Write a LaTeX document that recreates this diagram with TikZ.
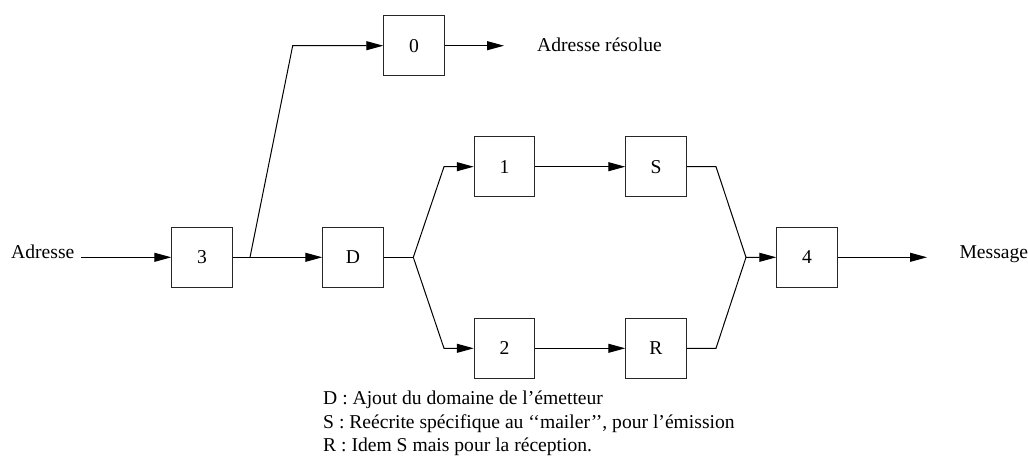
\documentclass[tikz,border=0pt]{standalone}
\usepackage{fontspec}
\setmainfont{Liberation Serif}
\usetikzlibrary{arrows.meta}
\begin{document}
\begin{tikzpicture}[x=1pt,y=-1pt,
  every node/.style={font=\fontsize{19.6}{23.4}\selectfont},
  blk/.style={draw=black!85,line width=1pt,minimum width=60.5pt,minimum height=60.5pt,inner sep=0pt},
  lbl/.style={anchor=base west,inner sep=0pt},
  arr/.style={-{Triangle[length=17pt,width=9pt]}},
  every path/.style={line width=1pt}]
\useasboundingbox (0,0) rectangle (1028,463);
% blocks
\node[blk] (n0) at (414,45.7) {0};
\node[blk] (n3) at (202,257.3) {3};
\node[blk] (nD) at (353,257.3) {D};
\node[blk] (n1) at (504.5,166.7) {1};
\node[blk] (nS) at (656,166.7) {S};
\node[blk] (n2) at (504.5,348.3) {2};
\node[blk] (nR) at (656,348.3) {R};
\node[blk] (n4) at (807,257.3) {4};
% labels
\node[lbl] (tin) at (10.7,258.5) {Adresse};
\node[lbl] (tres) at (536.7,51.5) {Adresse résolue};
\node[lbl] (tmsg) at (959,258.5) {Message};
\node[lbl] (l1) at (322.7,404.5) {D : Ajout du domaine de l’émetteur};
\node[lbl] (l2) at (322.7,428) {S : Reécrite spécifique au \textquoteleft\textquoteleft mailer\textquoteright\textquoteright, pour l’émission};
\node[lbl] (l3) at (322.7,451.5) {R : Idem S mais pour la réception.};
% coordinates
\coordinate (cin) at (81,257.3);
\coordinate (j3) at (250,257.3);
\coordinate (k0) at (292.7,45.7);
\coordinate (out0) at (504,45.7);
\coordinate (jD) at (413.3,257.3);
\coordinate (k1) at (444,166.7);
\coordinate (k2) at (444,348.3);
\coordinate (mS) at (716,166.7);
\coordinate (mR) at (716,348.3);
\coordinate (m4) at (746,257.3);
\coordinate (out4) at (927,257.3);
% connectors
\draw[arr] (cin) -- (n3.west);
\draw[arr] (n3.east) -- (nD.west);
\draw[arr] (j3) -- (k0) -- (n0.west);
\draw[arr] (n0.east) -- (out0);
\draw (nD.east) -- (jD);
\draw[arr] (jD) -- (k1) -- (n1.west);
\draw[arr] (jD) -- (k2) -- (n2.west);
\draw[arr] (n1.east) -- (nS.west);
\draw[arr] (n2.east) -- (nR.west);
\draw[arr] (nS.east) -- (mS) -- (m4) -- (n4.west);
\draw (nR.east) -- (mR) -- (m4);
\draw[arr] (n4.east) -- (out4);
\end{tikzpicture}
\end{document}
